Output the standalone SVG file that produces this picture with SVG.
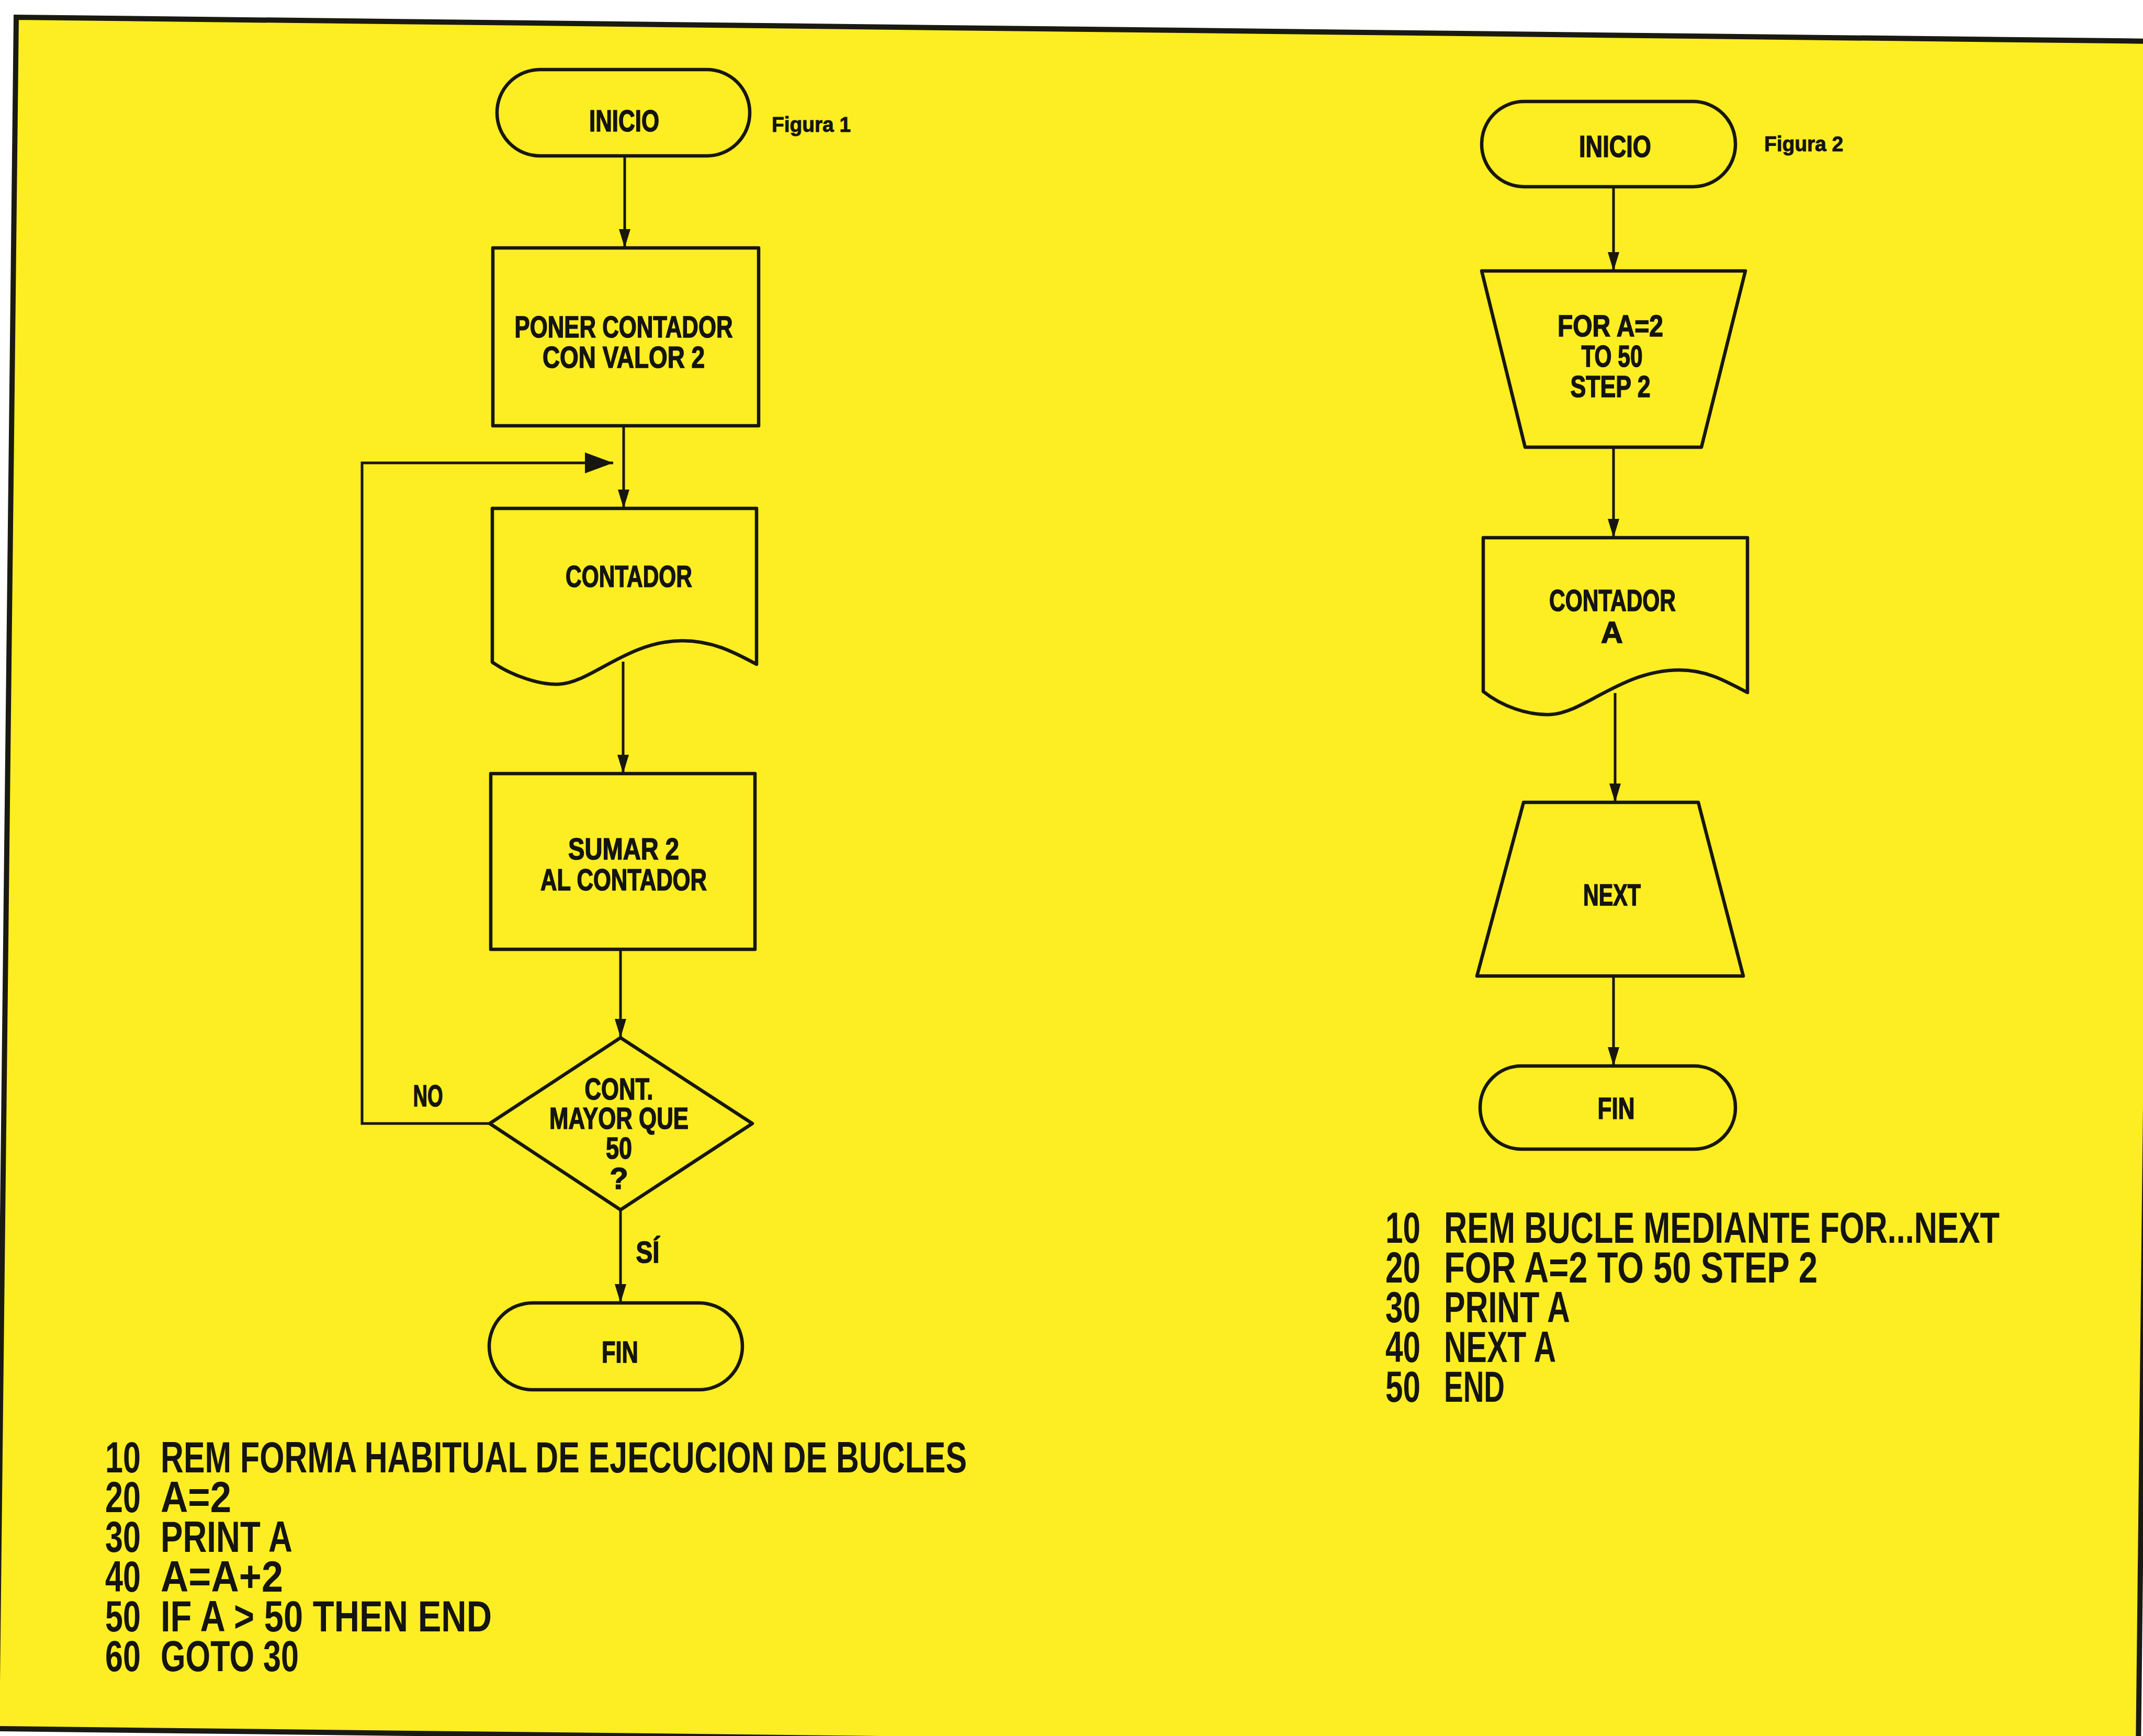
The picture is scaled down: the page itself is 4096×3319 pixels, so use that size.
<svg xmlns="http://www.w3.org/2000/svg" width="4096" height="3319" viewBox="0 0 4096 3319">
<style>
.shape{fill:none;stroke:#17170f;stroke-width:6.5;stroke-linejoin:round}
.conn{fill:none;stroke:#17170f;stroke-width:5}
.lbl{font-family:"Liberation Sans Narrow","Liberation Sans",Arial,sans-serif;font-weight:bold;font-size:58px;fill:#141410;stroke:#141410;stroke-width:1.6;text-anchor:middle}
.fig{font-family:"Liberation Sans Narrow","Liberation Sans",Arial,sans-serif;font-weight:bold;font-size:40px;fill:#141410;stroke:#141410;stroke-width:1}
.code{font-family:"Liberation Sans Narrow","Liberation Sans",Arial,sans-serif;font-weight:bold;font-size:84px;fill:#141410}
</style>
<defs>
<marker id="ah" viewBox="0 0 10 10" refX="10" refY="5" markerUnits="userSpaceOnUse" markerWidth="36" markerHeight="22" orient="auto" preserveAspectRatio="none"><path d="M0,0 L10,5 L0,10 z" fill="#17170f"/></marker>
<marker id="ahL" viewBox="0 0 10 10" refX="10" refY="5" markerUnits="userSpaceOnUse" markerWidth="54" markerHeight="40" orient="auto" preserveAspectRatio="none"><path d="M0,0 L10,5 L0,10 z" fill="#17170f"/></marker>
</defs>
<rect x="0" y="0" width="4096" height="3319" fill="#ffffff"/>
<polygon id="page" points="31,33 4124,79 4087,3351 -6,3305" fill="#FDED23" stroke="#1a1a12" stroke-width="10"/>

<g id="connectors">
<path class="conn" d="M1194,298 V474" marker-end="url(#ah)"/>
<path class="conn" d="M1192,814 V972" marker-end="url(#ah)"/>
<path class="conn" d="M936,2148 H692 V885 H1172" marker-end="url(#ahL)"/>
<path class="conn" d="M1191,1265 V1479" marker-end="url(#ah)"/>
<path class="conn" d="M1186,1815 V1984" marker-end="url(#ah)"/>
<path class="conn" d="M1186,2313 V2491" marker-end="url(#ah)"/>
<path class="conn" d="M3084,357 V518" marker-end="url(#ah)"/>
<path class="conn" d="M3084,855 V1028" marker-end="url(#ah)"/>
<path class="conn" d="M3087,1325 V1534" marker-end="url(#ah)"/>
<path class="conn" d="M3084,1866 V2038" marker-end="url(#ah)"/>
<text class="lbl" x="818" y="2115" textLength="57" lengthAdjust="spacingAndGlyphs">NO</text>
<text class="lbl" x="1238" y="2414" textLength="45" lengthAdjust="spacingAndGlyphs">SÍ</text>
</g>

<g id="fig1-inicio">
<rect class="shape" x="950" y="133" width="483" height="165" rx="82" ry="82"/>
<text class="lbl" x="1193" y="251" textLength="134" lengthAdjust="spacingAndGlyphs">INICIO</text>
</g>
<g id="fig1-title">
<text class="fig" x="1475" y="252" textLength="151" lengthAdjust="spacingAndGlyphs">Figura 1</text>
</g>
<g id="fig1-poner">
<rect class="shape" x="942" y="474" width="508" height="340"/>
<text class="lbl"><tspan x="1192" y="645" textLength="417" lengthAdjust="spacingAndGlyphs">PONER CONTADOR</tspan><tspan x="1192" y="703" textLength="310" lengthAdjust="spacingAndGlyphs">CON VALOR 2</tspan></text>
</g>
<g id="fig1-contador">
<path class="shape" d="M941,972 H1446 V1270 C1400,1245 1360,1225 1304,1225 C1200,1225 1130,1305 1069,1308 C1030,1310 975,1290 941,1266 Z"/>
<text class="lbl" x="1202" y="1122" textLength="242" lengthAdjust="spacingAndGlyphs">CONTADOR</text>
</g>
<g id="fig1-sumar">
<rect class="shape" x="938" y="1479" width="505" height="336"/>
<text class="lbl"><tspan x="1192" y="1643" textLength="212" lengthAdjust="spacingAndGlyphs">SUMAR 2</tspan><tspan x="1192" y="1702" textLength="318" lengthAdjust="spacingAndGlyphs">AL CONTADOR</tspan></text>
</g>
<g id="fig1-decision">
<polygon class="shape" points="936,2148 1186,1984 1438,2148 1186,2313"/>
<text class="lbl"><tspan x="1183" y="2102" textLength="131" lengthAdjust="spacingAndGlyphs">CONT.</tspan><tspan x="1183" y="2158" textLength="266" lengthAdjust="spacingAndGlyphs">MAYOR QUE</tspan><tspan x="1183" y="2215" textLength="50" lengthAdjust="spacingAndGlyphs">50</tspan><tspan x="1183" y="2273">?</tspan></text>
</g>
<g id="fig1-fin">
<rect class="shape" x="935" y="2491" width="484" height="166" rx="83" ry="83"/>
<text class="lbl" x="1185" y="2605" textLength="70" lengthAdjust="spacingAndGlyphs">FIN</text>
</g>
<g id="fig1-code">
<text class="code"><tspan x="201" y="2815" textLength="68" lengthAdjust="spacingAndGlyphs">10</tspan><tspan x="307" y="2815" textLength="1541" lengthAdjust="spacingAndGlyphs">REM FORMA HABITUAL DE EJECUCION DE BUCLES</tspan><tspan x="201" y="2891" textLength="68" lengthAdjust="spacingAndGlyphs">20</tspan><tspan x="307" y="2891" textLength="135" lengthAdjust="spacingAndGlyphs">A=2</tspan><tspan x="201" y="2967" textLength="68" lengthAdjust="spacingAndGlyphs">30</tspan><tspan x="307" y="2967" textLength="252" lengthAdjust="spacingAndGlyphs">PRINT A</tspan><tspan x="201" y="3043" textLength="68" lengthAdjust="spacingAndGlyphs">40</tspan><tspan x="307" y="3043" textLength="234" lengthAdjust="spacingAndGlyphs">A=A+2</tspan><tspan x="201" y="3119" textLength="68" lengthAdjust="spacingAndGlyphs">50</tspan><tspan x="307" y="3119" textLength="633" lengthAdjust="spacingAndGlyphs">IF A &gt; 50 THEN END</tspan><tspan x="201" y="3195" textLength="68" lengthAdjust="spacingAndGlyphs">60</tspan><tspan x="307" y="3195" textLength="264" lengthAdjust="spacingAndGlyphs">GOTO 30</tspan></text>
</g>

<g id="fig2-inicio">
<rect class="shape" x="2832" y="194" width="485" height="163" rx="81" ry="81"/>
<text class="lbl" x="3087" y="300" textLength="138" lengthAdjust="spacingAndGlyphs">INICIO</text>
</g>
<g id="fig2-title">
<text class="fig" x="3372" y="289" textLength="151" lengthAdjust="spacingAndGlyphs">Figura 2</text>
</g>
<g id="fig2-for">
<polygon class="shape" points="2832,518 3336,518 3252,855 2915,855"/>
<text class="lbl"><tspan x="3078" y="643" textLength="202" lengthAdjust="spacingAndGlyphs">FOR A=2</tspan><tspan x="3081" y="701" textLength="117" lengthAdjust="spacingAndGlyphs">TO 50</tspan><tspan x="3078" y="759" textLength="153" lengthAdjust="spacingAndGlyphs">STEP 2</tspan></text>
</g>
<g id="fig2-contador">
<path class="shape" d="M2835,1028 H3340 V1324 C3295,1300 3260,1281 3210,1281 C3100,1281 3030,1362 2964,1366 C2920,1368 2870,1350 2835,1322 Z"/>
<text class="lbl"><tspan x="3082" y="1168" textLength="242" lengthAdjust="spacingAndGlyphs">CONTADOR</tspan><tspan x="3081" y="1229">A</tspan></text>
</g>
<g id="fig2-next">
<polygon class="shape" points="2912,1534 3246,1534 3332,1866 2823,1866"/>
<text class="lbl" x="3081" y="1731" textLength="110" lengthAdjust="spacingAndGlyphs">NEXT</text>
</g>
<g id="fig2-fin">
<rect class="shape" x="2829" y="2038" width="488" height="159" rx="79" ry="79"/>
<text class="lbl" x="3089" y="2139" textLength="71" lengthAdjust="spacingAndGlyphs">FIN</text>
</g>
<g id="fig2-code">
<text class="code"><tspan x="2648" y="2376" textLength="67" lengthAdjust="spacingAndGlyphs">10</tspan><tspan x="2760" y="2376" textLength="1062" lengthAdjust="spacingAndGlyphs">REM BUCLE MEDIANTE FOR...NEXT</tspan><tspan x="2648" y="2452" textLength="67" lengthAdjust="spacingAndGlyphs">20</tspan><tspan x="2760" y="2452" textLength="714" lengthAdjust="spacingAndGlyphs">FOR A=2 TO 50 STEP 2</tspan><tspan x="2648" y="2528" textLength="67" lengthAdjust="spacingAndGlyphs">30</tspan><tspan x="2760" y="2528" textLength="241" lengthAdjust="spacingAndGlyphs">PRINT A</tspan><tspan x="2648" y="2604" textLength="67" lengthAdjust="spacingAndGlyphs">40</tspan><tspan x="2760" y="2604" textLength="214" lengthAdjust="spacingAndGlyphs">NEXT A</tspan><tspan x="2648" y="2680" textLength="67" lengthAdjust="spacingAndGlyphs">50</tspan><tspan x="2760" y="2680" textLength="116" lengthAdjust="spacingAndGlyphs">END</tspan></text>
</g>
</svg>
